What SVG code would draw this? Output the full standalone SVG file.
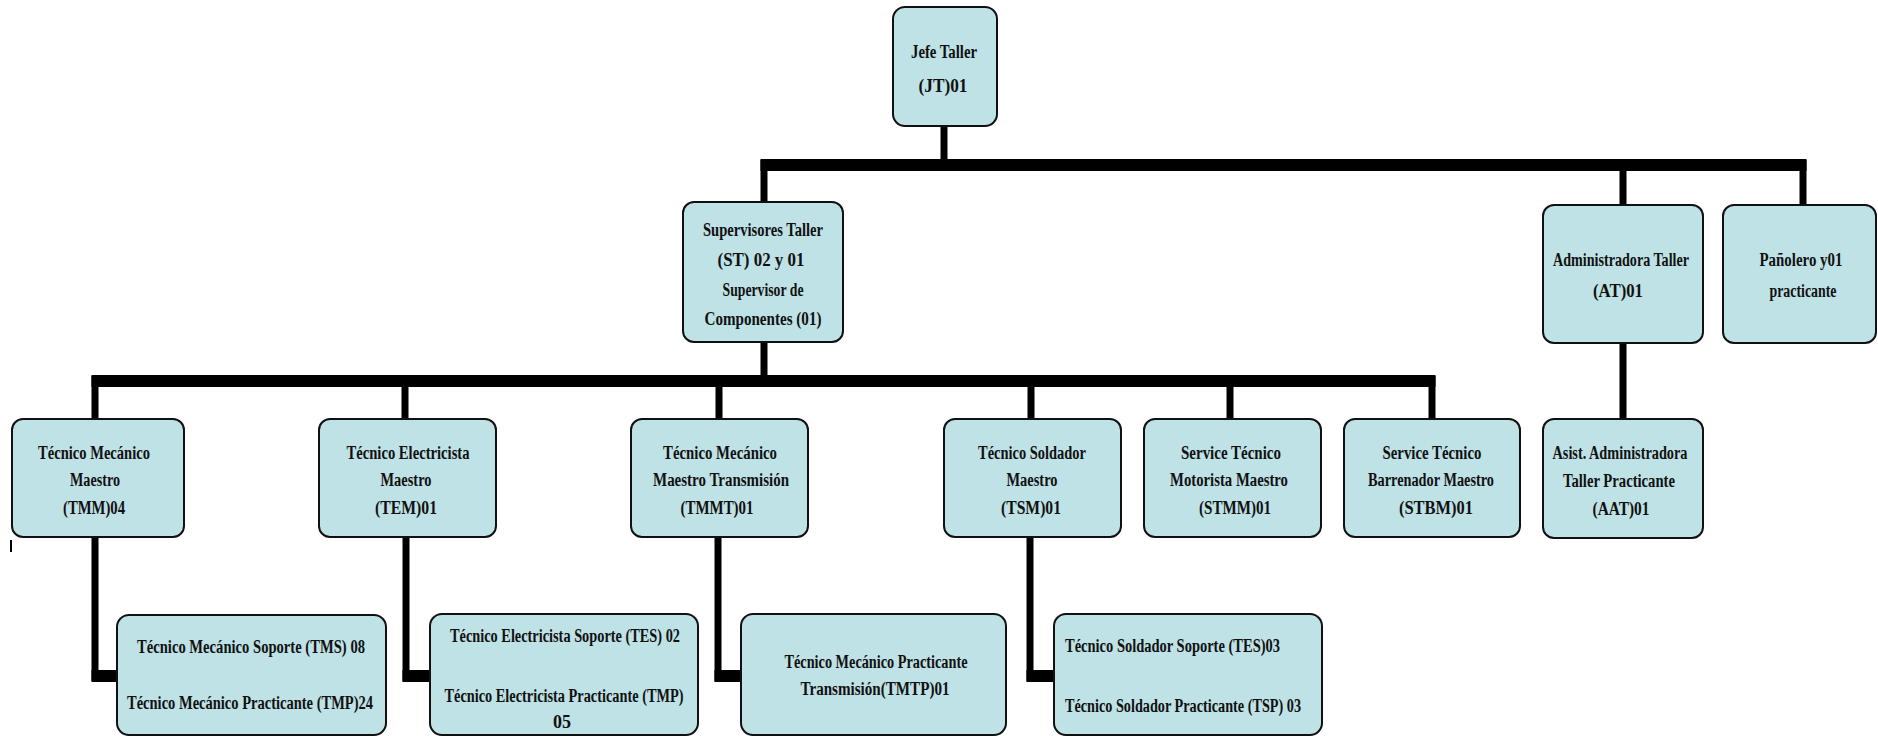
<svg xmlns="http://www.w3.org/2000/svg" width="1878" height="736" viewBox="0 0 1878 736">
<style>
.n{fill:#BEE2E6;stroke:#111;stroke-width:2}
.t{font-family:"Liberation Serif",serif;font-weight:bold;font-size:18px;fill:#111;text-anchor:middle}
.l{text-anchor:start}
.h{stroke:#000;stroke-width:12;fill:none}
.v{stroke:#000;stroke-width:7;fill:none}
</style>
<rect width="1878" height="736" fill="#fff"/>
<g id="connectors">
<line class="v" x1="944" y1="126" x2="944" y2="165"/>
<line class="h" x1="760.5" y1="165" x2="1806.5" y2="165"/>
<line class="v" x1="764" y1="160" x2="764" y2="202"/>
<line class="v" x1="1623" y1="165" x2="1623" y2="205"/>
<line class="v" x1="1803" y1="160" x2="1803" y2="205"/>
<line class="v" x1="764" y1="342" x2="764" y2="381"/>
<line class="h" x1="91.5" y1="381" x2="1435.5" y2="381"/>
<line class="v" x1="95" y1="376" x2="95" y2="419"/>
<line class="v" x1="405" y1="381" x2="405" y2="419"/>
<line class="v" x1="719" y1="381" x2="719" y2="419"/>
<line class="v" x1="1031" y1="381" x2="1031" y2="419"/>
<line class="v" x1="1230" y1="381" x2="1230" y2="419"/>
<line class="v" x1="1432" y1="376" x2="1432" y2="419"/>
<line class="v" x1="1623" y1="343" x2="1623" y2="419"/>
<line class="v" x1="95" y1="537" x2="95" y2="681"/>
<line class="h" x1="91.5" y1="676" x2="117" y2="676"/>
<line class="v" x1="406" y1="537" x2="406" y2="681"/>
<line class="h" x1="402.5" y1="676" x2="430" y2="676"/>
<line class="v" x1="718" y1="537" x2="718" y2="681"/>
<line class="h" x1="714.5" y1="676" x2="741" y2="676"/>
<line class="v" x1="1030" y1="537" x2="1030" y2="681"/>
<line class="h" x1="1026.5" y1="676" x2="1054" y2="676"/>
<line x1="11" y1="540" x2="11" y2="552" stroke="#000" stroke-width="2"/>
</g>
<g id="jefe"><rect class="n" x="893" y="7" width="104" height="119" rx="12"/>
<text class="t" x="944" y="58" textLength="66" lengthAdjust="spacingAndGlyphs">Jefe Taller</text>
<text class="t" x="943" y="92" textLength="49" lengthAdjust="spacingAndGlyphs">(JT)01</text></g>
<g id="supervisores"><rect class="n" x="683" y="202" width="160" height="140" rx="11"/>
<text class="t" x="763" y="236" textLength="120" lengthAdjust="spacingAndGlyphs">Supervisores Taller</text>
<text class="t" x="761" y="266" textLength="87" lengthAdjust="spacingAndGlyphs">(ST) 02 y 01</text>
<text class="t" x="763" y="296" textLength="81" lengthAdjust="spacingAndGlyphs">Supervisor de</text>
<text class="t" x="763" y="325" textLength="117" lengthAdjust="spacingAndGlyphs">Componentes (01)</text></g>
<g id="administradora"><rect class="n" x="1543" y="205" width="160" height="138" rx="11"/>
<text class="t" x="1621" y="266" textLength="136" lengthAdjust="spacingAndGlyphs">Administradora Taller</text>
<text class="t" x="1618" y="297" textLength="50" lengthAdjust="spacingAndGlyphs">(AT)01</text></g>
<g id="panolero"><rect class="n" x="1723" y="205" width="153" height="138" rx="11"/>
<text class="t" x="1801" y="266" textLength="83" lengthAdjust="spacingAndGlyphs">Pañolero y01</text>
<text class="t" x="1803" y="297" textLength="67" lengthAdjust="spacingAndGlyphs">practicante</text></g>
<g id="asistente"><rect class="n" x="1543" y="419" width="160" height="119" rx="11"/>
<text class="t" x="1620" y="459" textLength="135" lengthAdjust="spacingAndGlyphs">Asist. Administradora</text>
<text class="t" x="1619" y="487" textLength="112" lengthAdjust="spacingAndGlyphs">Taller Practicante</text>
<text class="t" x="1621" y="515" textLength="57" lengthAdjust="spacingAndGlyphs">(AAT)01</text></g>
<g id="tmm"><rect class="n" x="12" y="419" width="172" height="118" rx="11"/>
<text class="t" x="94" y="459" textLength="112" lengthAdjust="spacingAndGlyphs">Técnico Mecánico</text>
<text class="t" x="95" y="486" textLength="50" lengthAdjust="spacingAndGlyphs">Maestro</text>
<text class="t" x="94" y="514" textLength="62" lengthAdjust="spacingAndGlyphs">(TMM)04</text></g>
<g id="tem"><rect class="n" x="319" y="419" width="177" height="118" rx="11"/>
<text class="t" x="408" y="459" textLength="123" lengthAdjust="spacingAndGlyphs">Técnico Electricista</text>
<text class="t" x="406" y="486" textLength="51" lengthAdjust="spacingAndGlyphs">Maestro</text>
<text class="t" x="406" y="514" textLength="62" lengthAdjust="spacingAndGlyphs">(TEM)01</text></g>
<g id="tmmt"><rect class="n" x="631" y="419" width="177" height="118" rx="11"/>
<text class="t" x="720" y="459" textLength="114" lengthAdjust="spacingAndGlyphs">Técnico Mecánico</text>
<text class="t" x="721" y="486" textLength="136" lengthAdjust="spacingAndGlyphs">Maestro Transmisión</text>
<text class="t" x="717" y="514" textLength="73" lengthAdjust="spacingAndGlyphs">(TMMT)01</text></g>
<g id="tsm"><rect class="n" x="944" y="419" width="177" height="118" rx="11"/>
<text class="t" x="1032" y="459" textLength="108" lengthAdjust="spacingAndGlyphs">Técnico Soldador</text>
<text class="t" x="1032" y="486" textLength="51" lengthAdjust="spacingAndGlyphs">Maestro</text>
<text class="t" x="1031" y="514" textLength="60" lengthAdjust="spacingAndGlyphs">(TSM)01</text></g>
<g id="stmm"><rect class="n" x="1144" y="419" width="177" height="118" rx="11"/>
<text class="t" x="1231" y="459" textLength="100" lengthAdjust="spacingAndGlyphs">Service Técnico</text>
<text class="t" x="1229" y="486" textLength="118" lengthAdjust="spacingAndGlyphs">Motorista Maestro</text>
<text class="t" x="1235" y="514" textLength="72" lengthAdjust="spacingAndGlyphs">(STMM)01</text></g>
<g id="stbm"><rect class="n" x="1344" y="419" width="176" height="118" rx="11"/>
<text class="t" x="1432" y="459" textLength="99" lengthAdjust="spacingAndGlyphs">Service Técnico</text>
<text class="t" x="1431" y="486" textLength="126" lengthAdjust="spacingAndGlyphs">Barrenador Maestro</text>
<text class="t" x="1436" y="514" textLength="74" lengthAdjust="spacingAndGlyphs">(STBM)01</text></g>
<g id="tms"><rect class="n" x="117" y="615" width="269" height="120" rx="12"/>
<text class="t" x="251" y="653" textLength="228" lengthAdjust="spacingAndGlyphs">Técnico Mecánico Soporte (TMS) 08</text>
<text class="t" x="250" y="709" textLength="246" lengthAdjust="spacingAndGlyphs">Técnico Mecánico Practicante (TMP)24</text></g>
<g id="tes"><rect class="n" x="430" y="614" width="268" height="121" rx="12"/>
<text class="t" x="565" y="642" textLength="230" lengthAdjust="spacingAndGlyphs">Técnico Electricista Soporte (TES) 02</text>
<text class="t" x="564" y="702" textLength="239" lengthAdjust="spacingAndGlyphs">Técnico Electricista Practicante (TMP)</text>
<text class="t" x="562" y="728" textLength="18" lengthAdjust="spacingAndGlyphs">05</text></g>
<g id="tmtp"><rect class="n" x="741" y="614" width="265" height="121" rx="12"/>
<text class="t" x="876" y="668" textLength="183" lengthAdjust="spacingAndGlyphs">Técnico Mecánico Practicante</text>
<text class="t" x="875" y="695" textLength="149" lengthAdjust="spacingAndGlyphs">Transmisión(TMTP)01</text></g>
<g id="tss"><rect class="n" x="1054" y="614" width="268" height="121" rx="12"/>
<text class="t l" x="1065" y="652" textLength="215" lengthAdjust="spacingAndGlyphs">Técnico Soldador Soporte (TES)03</text>
<text class="t l" x="1065" y="712" textLength="236" lengthAdjust="spacingAndGlyphs">Técnico Soldador Practicante (TSP) 03</text></g>
</svg>
